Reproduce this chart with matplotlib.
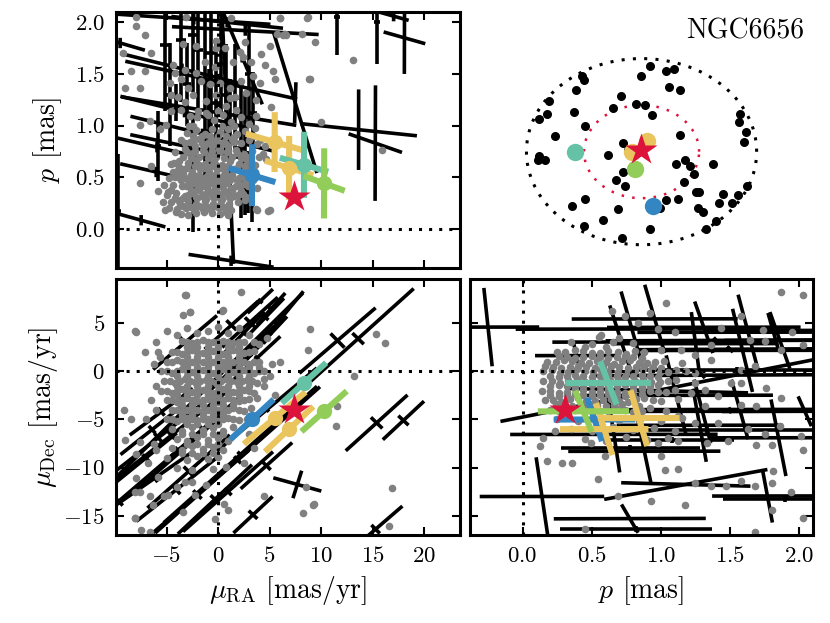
import numpy as np
import matplotlib
matplotlib.use("Agg")
import matplotlib.pyplot as plt

plt.rcParams['font.family'] = 'serif'
plt.rcParams['font.serif'] = ['cmr10']
plt.rcParams['mathtext.fontset'] = 'cm'
plt.rcParams['axes.formatter.use_mathtext'] = True

# ---------------------------------------------------------------- data
cluster_name = "NGC6656"

# highlighted stars: mu_RA [mas/yr], mu_Dec [mas/yr], parallax [mas]
hl_names = ["blue", "yellow1", "yellow2", "teal", "green"]
hl_colors = ["#3486c3", "#eac55e", "#eac55e", "#66c2a5", "#93cd59"]
hl_mura = [3.3, 5.5, 6.9, 8.35, 10.3]
hl_mudec = [-5.0, -4.85, -6.0, -1.2, -4.15]
hl_par = [0.52, 0.84, 0.59, 0.62, 0.44]
# error ellipse axes per plane: (major half dx, major half dy, minor half)
hl_err_ra_par = [(2.27, -0.068, 0.30), (2.8, -0.081, 0.29), (2.35, -0.07, 0.31),
                 (2.35, -0.068, 0.32), (2.0, -0.072, 0.34)]
hl_err_ra_dec = [(2.1, 2.08, 0.3), (3.0, 2.7, 0.3), (2.35, 2.35, 0.3),
                 (2.15, 2.1, 0.3), (2.2, 2.1, 0.3)]
hl_err_par_dec = [(-0.054, 2.25, 0.295), (-0.06, 2.9, 0.295), (-0.06, 2.7, 0.32),
                  (-0.06, 2.25, 0.31), (-0.06, 2.15, 0.33)]

# the target star (red)
target_mura, target_mudec, target_par = 7.4, -4.0, 0.31
target_sky = (-0.003, 0.014)

# sky positions (units of the outer radius)
hl_sky = [(0.096, -0.588), (0.046, 0.111), (-0.081, -0.007), (-0.577, -0.004), (-0.058, -0.186)]
sky_x = [-0.516, -0.496, -0.568, 0.070, -0.003, 0.215, 0.278, 0.235, 0.336, -0.800,
         -0.820, -0.887, -0.583, -0.177, -0.249, -0.046, 0.026, 0.087, -0.490, -0.748,
         0.336, -0.162, -0.119, -0.290, -0.887, -0.901, -0.843, 0.296, 0.377, 0.417,
         0.455, 0.620, -0.162, -0.226, -0.148, 0.365, 0.852, 0.846, 0.904, 0.887,
         0.470, 0.499, 0.707, 0.838, 0.916, -0.490, -0.606, -0.203, 0.215, 0.316,
         0.157, 0.490, 0.533, 0.672, 0.788, -0.336, -0.504, 0.070, 0.643, 0.562, -0.168]
sky_y = [0.817, 0.774, 0.667, 0.917, 0.817, 0.864, 0.889, 0.695, 0.667, 0.548,
         0.409, 0.355, 0.427, 0.595, 0.470, 0.516, 0.502, 0.394, 0.272, 0.165,
         0.183, 0.093, 0.014, -0.039, -0.050, -0.093, -0.093, -0.129, -0.093, -0.158,
         -0.237, -0.136, -0.215, -0.305, -0.366, -0.330, 0.405, 0.315, 0.215, 0.108,
         -0.437, -0.437, -0.452, -0.462, -0.373, -0.505, -0.588, -0.613, -0.516, -0.505,
         -0.606, -0.606, -0.649, -0.552, -0.552, -0.738, -0.803, -0.832, -0.749, -0.828, -0.932]
r_outer, r_inner = 1.0, 0.5

# black error crosses: (x, y, major dx, major dy, minor half)
err_ra_par = [
    (-5.18, 1.78, 0, 0.64, 0.5), (-3.56, 1.83, 0, 0.6, 0.5), (-2.43, 1.88, 0, 0.55, 0.5),
    (-1.94, 1.73, 0, 0.69, 0.5), (-1.30, 1.42, 0, 1.0, 0.6), (-0.65, 1.7, 0, 0.73, 0.5),
    (-0.17, 1.22, 0, 0.63, 0.5), (0.81, 1.3, 0, 0.49, 0.4), (1.61, 1.27, 0, 0.52, 0.4),
    (2.26, 0.78, 0, 0.68, 0.5), (2.58, 0.73, 0, 0.6, 0.5), (3.4, 1.12, 0, 0.4, 0.4),
    (-5.83, 0.8, 0, 0.34, 0.3), (-2.43, 0.52, 0, 0.55, 0.4), (-9.7, 0.17, 0, 0.55, 0.3),
    (-4.05, 1.22, 0, 0.18, 0.15), (11.55, 2.05, 0, 0.37, 0.3), (15.44, 2.0, 0, 0.4, 0.3),
    (-4.7, 1.3, 0, 0.5, 0.4), (-0.9, 0.95, 0, 0.6, 0.4), (1.2, 0.85, 0, 0.6, 0.4),
    (0.3, 1.6, 0, 0.5, 0.4), (3.0, 1.5, 0, 0.5, 0.4), (-3.0, 1.4, 0, 0.4, 0.4),
    (2.9, 0.45, 0, 0.3, 0.3), (3.3, 0.32, 0, 0.25, 0.3),
    (-2.36, 2.03, 7.45, -0.049, 0.05), (2.65, 1.92, 7.12, -0.038, 0.05),
    (-9.5, 1.8, 2.4, -0.07, 0.05), (-0.66, 1.44, 8.34, -0.183, 0.06),
    (-3.25, 1.13, 6.23, -0.154, 0.05), (-2.69, 0.79, 5.83, -0.122, 0.05),
    (-5.92, 0.79, 3.88, -0.09, 0.05), (-7.46, 0.083, 2.35, -0.065, 0.05),
    (1.27, -0.31, 4.13, -0.062, 0.05), (0.89, 2.0, 5.42, -0.057, 0.05),
    (-0.9, 1.14, 8.5, -0.138, 0.05), (-3.5, 1.55, 6.0, -0.15, 0.05),
    (-1.5, 0.92, 7.0, -0.17, 0.05), (-6.0, 0.55, 3.5, -0.08, 0.05),
    (13.65, 0.96, 5.66, -0.059, 0.39), (15.27, 0.83, 2.59, -0.09, 0.56),
    (18.1, 1.85, 2.02, -0.057, 0.35), (17.05, 2.06, 1.46, -0.041, 0.05),
    (0.95, 0.88, -0.56, 1.22, 0.3), (7.5, 1.22, 2.1, -0.68, 0.21), (2.36, 1.66, -1.94, 0.454, 0.05),
]
err_ra_dec = [
    (-3.2, 3.0, 3.1, 2.8, 0.8), (1.3, 4.8, 2.6, 2.5, 0.7), (3.1, 5.1, 2.7, 2.6, 0.7),
    (11.6, 3.2, 3.7, 3.4, 1.0), (13.6, 3.4, 5.4, 5.2, 0.8), (15.4, -5.35, 3.0, 2.9, 0.8),
    (18.0, -5.1, 2.0, 2.0, 0.7), (4.7, -9.8, 2.5, 2.4, 0.6), (7.7, -11.75, 2.33, -0.69, 1.49),
    (3.4, -14.9, 1.9, 1.9, 0.6), (15.3, -16.4, 2.6, 2.4, 0.6), (-0.3, -13.3, 3.6, 3.6, 0.6),
    (1.9, -9.2, 8.0, 7.6, 0.5), (-0.75, -1.35, 9.0, 9.5, 0.5), (-3.7, -8.4, 4.5, 4.2, 0.7),
    (-2.85, -10.4, 4.0, 3.8, 0.7), (-5.8, -6.9, 4.2, 3.5, 0.6), (-9.65, -13.5, 6.0, 5.5, 0.6),
    (-2.0, -12.8, 5.0, 4.6, 0.6), (4.1, 7.3, 1.23, 1.25, 0.3), (5.15, 6.5, 1.38, 1.64, 0.3),
    (5.7, 4.95, 2.59, 3.37, 0.3), (4.43, 3.11, 2.27, 2.59, 0.3), (3.14, 2.42, 2.27, 2.25, 0.3),
    (3.78, 1.39, 2.27, 2.25, 0.3), (4.75, -3.97, 4.85, 4.32, 0.3), (2.17, -8.64, 7.44, 7.09, 0.4),
    (-4.53, -6.64, 5.34, 4.49, 0.5), (-6.15, -11.1, 3.72, 2.77, 0.5), (-5.5, -4.2, 3.07, 2.42, 0.5),
    (0.97, -12.5, 4.37, 4.15, 0.5), (-4.05, -12.3, 3.88, 3.28, 0.6), (-6.4, -6.05, 3.07, 2.6, 0.5),
    (2.5, 4.0, 2.0, 2.2, 0.4), (4.6, 5.6, 1.8, 2.0, 0.4), (2.2, 1.0, 3.0, 3.0, 0.4),
    (-7.0, -9.0, 3.0, 2.6, 0.5), (-1.5, -6.0, 3.5, 3.2, 0.5),
]
err_par_dec = [
    (-0.25, 4.6, -0.03, 4.07, 0.37), (0.79, 4.4, -0.078, 3.9, 0.84), (0.955, 5.45, -0.072, 3.55, 0.6),
    (1.31, 4.58, -0.066, 2.68, 0.7), (1.63, 4.07, -0.072, 3.9, 0.8), (1.81, 4.25, -0.036, 1.82, 0.5),
    (2.04, -4.15, -0.048, 1.55, 0.6), (0.39, 1.64, -0.024, 1.46, 0.3), (0.66, -6.55, -0.042, 3.95, 0.75),
    (0.88, -8.3, -0.048, 3.3, 0.55), (1.30, -4.15, -0.06, 3.3, 0.8), (1.57, -3.96, -0.06, 3.1, 0.9),
    (1.85, -6.9, -0.054, 3.98, 0.5), (1.77, -12.95, -0.036, 2.76, 0.4), (0.775, -15.3, -0.06, 1.47, 0.55),
    (0.14, -13.0, -0.042, 4.07, 0.45), (0.97, -2.0, 1.13, 3.2, 0.7), (1.18, -11.75, 0.59, 1.55, 0.5),
    (0.82, -16.4, 0.55, 0.0, 0.3), (1.4, 3.22, 0.8, 0.05, 0.3), (1.5, 2.3, 0.7, 0.05, 0.3),
    (1.55, 0.18, 0.75, 0.0, 0.3), (1.3, -0.4, 0.8, 0.05, 0.3), (1.5, -4.05, 0.6, 0.02, 0.3),
    (1.33, -6.1, 0.77, 0.0, 0.3), (1.08, -7.16, 0.45, 0.0, 0.3), (0.78, -8.0, 0.5, 0.0, 0.3),
    (1.9, -13.3, 0.45, 0.0, 0.3), (0.715, 3.05, -0.085, 3.8, 0.5), (1.25, 2.88, -0.03, 3.28, 0.6),
    (1.59, 2.18, -0.072, 4.32, 0.7), (1.86, 3.22, -0.072, 2.94, 0.4), (1.11, -2.49, -0.072, 4.15, 0.7),
    (1.28, -5.6, -0.048, 3.8, 0.6),
]

# field stars (grey), read per panel
gray_ra_par = [
    (-7.93, 2.05), (-3.08, 2.05), (1.29, 2.04), (8.74, 2.05), (5.98, 2.04), (-7.93, 1.96), (-7.12, 1.88),
    (-9.22, 1.70), (-6.48, 1.70), (-3.4, 1.79), (-2.1, 1.77), (-0.17, 1.82), (-0.17, 1.75), (0.64, 1.75),
    (2.1, 1.71), (2.58, 1.81), (4.2, 1.69), (6.31, 1.88), (6.63, 1.88), (5.0, 1.77), (-8.42, 1.53),
    (-7.12, 1.53), (-4.37, 1.59), (-4.21, 1.51), (-3.24, 1.54), (-2.1, 1.51), (-1.3, 1.62), (-0.33, 1.57),
    (1.46, 1.62), (2.43, 1.66), (3.23, 1.62), (4.52, 1.59), (5.33, 1.53), (8.9, 1.45), (-9.06, 1.36),
    (-7.61, 1.36), (-4.7, 1.41), (-3.56, 1.45), (-2.91, 1.36), (-1.62, 1.43), (-0.81, 1.40), (0.16, 1.41),
    (1.13, 1.36), (2.26, 1.43), (3.4, 1.48), (4.04, 1.41), (5.5, 1.45), (-4.53, 1.30), (-3.88, 1.28),
    (-3.24, 1.23), (-2.43, 1.30), (-1.13, 1.24), (-0.17, 1.30), (1.13, 1.27), (1.61, 1.28), (2.75, 1.32),
    (3.72, 1.25), (-6.64, 1.04), (-5.67, 0.97), (-5.02, 1.01), (-4.53, 1.14), (-3.56, 1.15), (-2.75, 1.09),
    (-1.94, 1.14), (-0.97, 1.10), (0.0, 1.14), (0.81, 1.19), (1.78, 1.15), (-7.61, 1.01), (-6.48, 0.61),
    (-7.61, 0.44), (-5.83, 0.37), (-4.85, 0.36), (-5.34, 0.26), (-5.18, 0.18), (-4.04, 0.16), (-2.91, 0.13),
    (-2.1, 0.15), (-1.46, 0.19), (0.81, 0.16), (1.29, 0.18), (3.72, 0.19), (5.0, 0.18), (4.69, 0.68),
    (6.05, 2.04), (8.63, 2.04), (5.7, 1.89), (6.5, 1.89), (8.14, 1.89), (9.43, 1.81), (13.15, 1.64),
    (8.8, 1.45), (5.15, 1.18), (10.0, 1.03), (15.9, 0.76), (4.9, 0.17), (3.8, 0.18), (2.66, 0.28),
    (4.37, 0.72), (4.54, 0.80), (4.05, 0.86), (3.56, 0.98), (3.72, 1.09),
    (-2.0, 1.08), (-1.2, 1.12), (-0.4, 1.05), (0.5, 1.1), (1.3, 1.03), (2.2, 1.08), (-2.8, 1.0), (3.0, 1.02),
    (-3.0, 0.93), (-2.1, 0.96), (-1.3, 0.92), (-0.6, 0.97), (0.2, 0.94), (1.0, 0.97), (1.8, 0.92), (2.6, 0.95),
    (3.4, 0.9), (-3.6, 0.86), (-2.7, 0.84), (-1.8, 0.87), (-1.0, 0.83), (-0.2, 0.86), (0.6, 0.84), (1.4, 0.87),
    (2.2, 0.83), (3.0, 0.86), (3.8, 0.82), (-4.2, 0.74), (-3.2, 0.77), (-2.4, 0.73), (-1.5, 0.76), (-0.7, 0.72),
    (0.1, 0.77), (0.9, 0.74), (1.7, 0.76), (2.5, 0.72), (3.3, 0.75), (4.0, 0.7), (-4.6, 0.63), (-3.8, 0.66),
    (-2.9, 0.64), (-2.1, 0.67), (-1.3, 0.63), (-0.4, 0.66), (0.4, 0.62), (1.2, 0.66), (2.0, 0.63), (2.8, 0.67),
    (3.6, 0.62), (-4.0, 0.56), (-3.3, 0.58), (-2.5, 0.55), (-1.7, 0.58), (-0.9, 0.55), (-0.1, 0.58), (0.7, 0.55),
    (1.5, 0.58), (2.3, 0.55), (3.1, 0.57), (-4.8, 0.49), (-3.9, 0.5), (-3.0, 0.48), (-2.2, 0.51), (-1.4, 0.48),
    (-0.6, 0.51), (0.2, 0.48), (1.0, 0.51), (1.8, 0.47), (2.6, 0.5), (3.4, 0.47), (-4.4, 0.42), (-3.5, 0.41),
    (-2.7, 0.43), (-1.9, 0.4), (-1.1, 0.43), (-0.3, 0.4), (0.5, 0.43), (1.3, 0.4), (2.1, 0.42), (2.9, 0.41),
    (-5.0, 0.33), (-4.1, 0.35), (-3.2, 0.32), (-2.4, 0.35), (-1.6, 0.32), (-0.8, 0.35), (0.0, 0.32), (0.8, 0.35),
    (1.6, 0.32), (2.4, 0.34), (-4.6, 0.26), (-3.7, 0.24), (-2.9, 0.27), (-2.1, 0.24), (-1.3, 0.27), (-0.5, 0.24),
    (0.3, 0.27), (1.1, 0.24), (1.9, 0.26), (-4.0, 0.19), (-3.1, 0.2), (-2.3, 0.18), (-1.5, 0.21), (-0.7, 0.18),
    (0.1, 0.2), (0.9, 0.18), (-1.8, 0.62), (-1.0, 0.6), (-0.2, 0.62), (0.6, 0.6), (-2.6, 0.45), (-1.8, 0.46),
    (-1.0, 0.45), (-0.2, 0.46), (0.6, 0.45), (-2.0, 0.3), (-1.2, 0.29), (-0.4, 0.3), (0.4, 0.29), (1.2, 0.3),
    (-2.2, 0.8), (-1.4, 0.8), (-0.6, 0.8), (0.2, 0.8), (1.0, 0.8),
    (-3.4, 0.3), (-2.6, 0.38), (-1.8, 0.38), (-1.0, 0.38), (-0.2, 0.37), (0.6, 0.38), (1.4, 0.37), (2.2, 0.37),
    (-3.4, 0.53), (-2.6, 0.52), (-1.8, 0.52), (-1.0, 0.52), (-0.2, 0.53), (0.6, 0.52), (1.4, 0.52), (2.2, 0.5),
    (-3.4, 0.7), (-2.6, 0.69), (-1.8, 0.7), (-1.0, 0.69), (-0.2, 0.7), (0.6, 0.69), (1.4, 0.7), (2.2, 0.69),
    (3.0, 0.7), (-3.4, 0.22), (-2.6, 0.21), (-1.8, 0.22), (-1.0, 0.21), (-0.2, 0.22), (0.6, 0.21),
    (-4.2, 0.3), (-4.4, 0.55), (-5.2, 0.42), (-4.8, 0.2), (-2.4, 0.9), (-1.6, 0.9), (-0.8, 0.9), (0.0, 0.9),
    (0.8, 0.9), (1.6, 0.89), (-2.4, 1.0), (0.4, 1.0), (1.6, 1.0),
    (-2.2, 0.17), (-1.4, 0.16), (-0.6, 0.15), (0.2, 0.14), (1.0, 0.13), (-3.6, 0.14),
    (-2.9, 0.33), (-2.1, 0.31), (-1.3, 0.34), (-0.5, 0.31), (0.3, 0.34), (1.1, 0.31), (1.9, 0.33), (2.7, 0.31),
    (-3.1, 0.41), (-2.3, 0.44), (-1.5, 0.41), (-0.7, 0.44), (0.1, 0.41), (0.9, 0.44), (1.7, 0.41), (2.5, 0.43),
    (-3.6, 0.47), (-2.8, 0.49), (-2.0, 0.47), (-1.2, 0.5), (-0.4, 0.47), (0.4, 0.5), (1.2, 0.47), (2.0, 0.49),
    (2.8, 0.46), (-3.8, 0.6), (-3.0, 0.59), (-2.2, 0.61), (-1.4, 0.59), (-0.6, 0.61), (0.2, 0.59), (1.0, 0.61),
    (1.8, 0.59), (2.6, 0.61), (-3.0, 0.74), (-2.2, 0.75), (-1.4, 0.74), (-0.6, 0.75), (0.2, 0.74), (1.0, 0.75),
    (1.8, 0.73), (-3.2, 0.83), (-2.4, 0.84), (-1.6, 0.83), (-0.8, 0.84), (0.0, 0.83), (0.8, 0.82), (1.6, 0.84),
    (-4.2, 0.5), (-4.6, 0.38), (-4.3, 0.64), (-3.9, 0.28), (3.6, 0.55), (3.8, 0.4), (3.2, 0.65),
]
gray_ra_dec = [
    (-3.08, 7.96), (2.26, 8.24), (-3.4, 5.81), (-2.76, 6.16), (0.49, 6.33), (-7.93, 4.08), (-7.12, 2.01),
    (-5.67, 1.49), (8.89, 4.43), (8.74, 2.18), (-8.42, -4.9), (-7.61, -7.33), (-5.99, -8.19), (-7.93, -11.1),
    (-7.61, -12.5), (-6.64, -13.0), (-4.85, -12.86), (-3.24, -11.5), (-2.27, -12.86), (-8.1, -15.2),
    (-3.4, -14.6), (0.97, -14.4), (-7.45, -16.5), (8.25, -14.76), (9.22, -13.9), (8.57, -12.0),
    (-3.17, 7.95), (-2.75, 6.13), (0.39, 6.23), (-8.03, 4.15), (15.37, 3.91), (16.24, 2.94), (13.17, -0.45),
    (11.6, -3.56), (11.46, -5.7), (-9.17, -3.98), (-9.0, -7.1), (-7.93, -8.6), (-8.03, -12.5), (-6.3, -13.9),
    (-8.03, -15.2), (-5.28, -12.9), (4.43, -12.9), (9.35, -13.75), (16.9, -12.1), (16.56, -16.1),
    (-0.26, -15.3), (0.54, -13.8), (-6.57, -16.7),
    (-3.5, 3.2), (-2.5, 2.9), (-1.5, 3.3), (-0.5, 3.0), (0.5, 3.2), (1.5, 2.9), (2.5, 3.1),
    (-4.5, 2.0), (-3.5, 1.8), (-2.5, 2.2), (-1.5, 1.9), (-0.5, 2.1), (0.5, 1.8), (1.5, 2.2), (2.5, 1.9), (3.5, 2.1),
    (-5.0, 1.0), (-4.0, 1.2), (-3.0, 0.9), (-2.0, 1.1), (-1.0, 0.8), (0.0, 1.2), (1.0, 0.9), (2.0, 1.1), (3.0, 0.8),
    (4.0, 1.0), (-5.5, 0.0), (-4.5, -0.2), (-3.5, 0.2), (-2.5, -0.1), (-1.5, 0.1), (-0.5, -0.2), (0.5, 0.2),
    (1.5, -0.1), (2.5, 0.1), (3.5, -0.2), (4.5, 0.0), (-5.2, -1.0), (-4.2, -1.2), (-3.2, -0.8), (-2.2, -1.1),
    (-1.2, -0.9), (-0.2, -1.2), (0.8, -0.8), (1.8, -1.1), (2.8, -0.9), (3.8, -1.2), (-5.5, -2.0), (-4.5, -2.2),
    (-3.5, -1.8), (-2.5, -2.1), (-1.5, -1.9), (-0.5, -2.2), (0.5, -1.8), (1.5, -2.1), (2.5, -1.9), (3.5, -2.2),
    (-5.0, -3.0), (-4.0, -3.2), (-3.0, -2.8), (-2.0, -3.1), (-1.0, -2.9), (0.0, -3.2), (1.0, -2.8), (2.0, -3.1),
    (3.0, -2.9), (-4.5, -4.0), (-3.5, -4.2), (-2.5, -3.8), (-1.5, -4.1), (-0.5, -3.9), (0.5, -4.2), (1.5, -3.8),
    (2.5, -4.1), (-5.0, -5.0), (-4.0, -5.2), (-3.0, -4.8), (-2.0, -5.1), (-1.0, -4.9), (0.0, -5.2), (1.0, -4.8),
    (2.0, -5.1), (-4.5, -6.0), (-3.5, -6.2), (-2.5, -5.8), (-1.5, -6.1), (-0.5, -5.9), (0.5, -6.2), (1.5, -5.8),
    (-4.0, -7.0), (-3.0, -7.2), (-2.0, -6.8), (-1.0, -7.1), (0.0, -6.9), (1.0, -7.2), (-4.5, -8.0), (-3.5, -8.2),
    (-2.5, -7.8), (-1.5, -8.1), (-0.5, -7.9), (0.5, -8.2), (-5.0, -9.0), (-3.0, -9.2), (-2.0, -8.8), (-1.0, -9.1),
    (0.0, -8.9), (-4.0, -10.0), (-2.5, -10.2), (-0.5, -10.1), (0.8, -9.9), (3.0, 3.8), (4.0, 2.8), (1.0, 4.0),
    (2.0, 4.5), (-1.0, 4.2), (-2.0, 4.0), (4.5, -1.5), (5.2, 0.8), (5.0, -0.5), (-6.5, -3.0), (-7.0, -5.0),
    (-6.2, -7.5), (-6.8, -9.5), (-5.8, -11.0), (-4.0, -12.0), (-2.5, -11.5), (-1.2, -11.8), (3.0, -6.5),
    (3.5, -8.0), (2.5, -9.5), (-6.0, 3.0), (-5.0, 4.2), (4.8, 3.5), (6.0, 1.0), (5.5, -2.5),
    (-3.0, 1.5), (-2.0, 1.5), (-1.0, 1.5), (0.0, 1.5), (1.0, 1.5), (2.0, 1.5), (-3.0, 0.5), (-2.0, 0.5),
    (-1.0, 0.5), (0.0, 0.5), (1.0, 0.5), (2.0, 0.5), (3.0, 0.5), (-4.0, -0.5), (-3.0, -0.5), (-2.0, -0.5),
    (-1.0, -0.5), (0.0, -0.5), (1.0, -0.5), (2.0, -0.5), (3.0, -0.5), (-4.0, -1.5), (-3.0, -1.5), (-2.0, -1.5),
    (-1.0, -1.5), (0.0, -1.5), (1.0, -1.5), (2.0, -1.5), (3.0, -1.5), (-4.0, -2.5), (-3.0, -2.5), (-2.0, -2.5),
    (-1.0, -2.5), (0.0, -2.5), (1.0, -2.5), (2.0, -2.5), (-3.5, -3.5), (-2.5, -3.5), (-1.5, -3.5), (-0.5, -3.5),
    (0.5, -3.5), (1.5, -3.5), (-3.5, -4.5), (-2.5, -4.5), (-1.5, -4.5), (-0.5, -4.5), (0.5, -4.5), (-3.0, -5.5),
    (-2.0, -5.5), (-1.0, -5.5), (0.0, -5.5),
    (-3.0, 2.5), (-2.0, 2.5), (-1.0, 2.5), (0.0, 2.5), (1.0, 2.5), (2.0, 2.5), (-3.5, -6.5), (-2.5, -6.5),
    (-1.5, -6.5), (-0.5, -6.5), (0.5, -6.5), (-3.0, -7.5), (-2.0, -7.5), (-1.0, -7.5), (0.0, -7.5),
    (-3.5, -8.5), (-2.5, -8.5), (-1.5, -8.5), (-0.5, -8.5), (-4.0, 3.8), (-3.0, 4.5), (0.0, 4.6), (3.5, 3.0),
    (4.0, 0.5), (4.5, -0.8), (3.8, -2.8), (3.2, -3.8), (2.8, -5.0), (-6.0, -1.5), (-6.2, 0.8), (-5.8, 2.0),
    (-6.0, -4.0),
    (-3.0, 3.0), (-2.0, 3.0), (-1.0, 3.0), (0.0, 3.0), (1.0, 3.0), (2.0, 3.0),
    (-4.0, 2.0), (-3.0, 2.0), (-2.0, 2.0), (-1.0, 2.0), (0.0, 2.0), (1.0, 2.0), (2.0, 2.0), (3.0, 2.0),
    (-4.5, 1.0), (-3.5, 1.0), (-2.5, 1.0), (-1.5, 1.0), (-0.5, 1.0), (0.5, 1.0), (1.5, 1.0), (2.5, 1.0), (3.5, 1.0),
    (-5.0, 0.0), (-4.0, 0.0), (-3.0, 0.0), (-2.0, 0.0), (-1.0, 0.0), (0.0, 0.0), (1.0, 0.0), (2.0, 0.0), (3.0, 0.0),
    (4.0, 0.0), (-4.7, -1.0), (-3.7, -1.0), (-2.7, -1.0), (-1.7, -1.0), (-0.7, -1.0), (0.3, -1.0), (1.3, -1.0),
    (2.3, -1.0), (3.3, -1.0), (-5.0, -2.0), (-4.0, -2.0), (-3.0, -2.0), (-2.0, -2.0), (-1.0, -2.0), (0.0, -2.0),
    (1.0, -2.0), (2.0, -2.0), (3.0, -2.0), (-4.5, -3.0), (-3.5, -3.0), (-2.5, -3.0), (-1.5, -3.0), (-0.5, -3.0),
    (0.5, -3.0), (1.5, -3.0), (2.5, -3.0), (-4.0, -4.0), (-3.0, -4.0), (-2.0, -4.0), (-1.0, -4.0), (0.0, -4.0),
    (1.0, -4.0), (2.0, -4.0), (-4.5, -5.0), (-3.5, -5.0), (-2.5, -5.0), (-1.5, -5.0), (-0.5, -5.0), (0.5, -5.0),
    (1.5, -5.0),
]
gray_par_dec = [
    (1.87, 8.2), (2.03, 7.95), (1.04, 7.09), (0.643, 6.23), (0.739, 5.78), (0.919, 6.06), (1.576, 5.71),
    (1.737, 4.33), (1.947, 4.05), (0.565, 3.8), (0.835, 5.02), (0.979, 4.4), (1.1, 4.05), (1.437, 4.49),
    (1.641, 3.29), (1.75, 3.11), (2.03, 2.76), (1.148, 2.25), (1.365, 2.76), (1.87, 2.25), (1.244, 1.73),
    (1.365, 1.21), (1.58, 0.18), (1.68, 0.52), (1.51, -1.2), (1.316, -1.9), (1.412, -2.59), (1.58, -1.2),
    (1.762, -1.72), (1.87, -2.76), (1.316, -3.62), (1.58, -3.45), (1.69, -3.62), (1.124, -4.66),
    (1.244, -5.35), (1.412, -5.35), (1.63, -6.04), (1.75, -6.56), (1.86, -5.7), (2.01, -6.73), (0.979, -7.42),
    (1.124, -7.25), (1.33, -7.42), (1.485, -7.25), (1.69, -7.6), (1.8, -7.6), (2.03, -8.12), (1.027, -10.2),
    (1.124, -10.13), (1.244, -11.6), (1.365, -11.95), (1.473, -11.95), (1.58, -11.4), (1.68, -11.95),
    (1.81, -10.4), (1.8, -11.6), (1.942, -12.55), (0.546, -11.15), (0.69, -12.96), (0.93, -13.5),
    (1.172, -13.85), (1.8, -14.4), (2.03, -15.2), (1.68, -16.7), (0.45, -16.4), (0.354, -9.5), (0.282, -9.5),
    (0.173, -9.33), (0.125, -7.77), (0.149, -6.9), (0.233, -6.21), (0.498, -7.42), (0.594, -8.8), (1.0, -8.8),
    (0.35, 3.0), (0.5, 2.8), (0.65, 3.1), (0.8, 2.9), (0.25, 2.0), (0.38, 2.2), (0.5, 1.9), (0.62, 2.1),
    (0.75, 1.8), (0.88, 2.0), (1.0, 2.2), (0.18, 1.0), (0.3, 1.2), (0.42, 0.9), (0.54, 1.1), (0.66, 0.8),
    (0.78, 1.2), (0.9, 0.9), (1.02, 1.1), (1.15, 0.9), (0.15, 0.0), (0.27, -0.2), (0.39, 0.2), (0.51, -0.1),
    (0.63, 0.1), (0.75, -0.2), (0.87, 0.2), (0.99, -0.1), (1.11, 0.1), (1.25, -0.2), (0.15, -1.0), (0.27, -1.2),
    (0.39, -0.8), (0.51, -1.1), (0.63, -0.9), (0.75, -1.2), (0.87, -0.8), (0.99, -1.1), (1.11, -0.9),
    (1.25, -1.2), (0.14, -2.0), (0.26, -2.2), (0.38, -1.8), (0.5, -2.1), (0.62, -1.9), (0.74, -2.2),
    (0.86, -1.8), (0.98, -2.1), (1.1, -1.9), (1.22, -2.2), (0.16, -3.0), (0.28, -3.2), (0.4, -2.8),
    (0.52, -3.1), (0.64, -2.9), (0.76, -3.2), (0.88, -2.8), (1.0, -3.1), (1.12, -2.9), (0.2, -4.0),
    (0.32, -4.2), (0.44, -3.8), (0.56, -4.1), (0.68, -3.9), (0.8, -4.2), (0.92, -3.8), (1.04, -4.1),
    (0.25, -5.0), (0.4, -5.2), (0.55, -4.8), (0.7, -5.1), (0.85, -4.9), (1.0, -5.2), (1.15, -4.8),
    (0.35, -6.0), (0.5, -6.2), (0.65, -5.8), (0.8, -6.1), (0.95, -5.9), (1.1, -6.2), (0.45, -7.0),
    (0.6, -7.2), (0.75, -6.8), (0.9, -7.1), (1.05, -6.9), (0.32, 1.5), (0.44, 1.5), (0.56, 1.5), (0.68, 1.5),
    (0.8, 1.5), (0.22, 0.5), (0.34, 0.5), (0.46, 0.5), (0.58, 0.5), (0.7, 0.5), (0.82, 0.5), (0.94, 0.5),
    (0.2, -0.5), (0.32, -0.5), (0.44, -0.5), (0.56, -0.5), (0.68, -0.5), (0.8, -0.5), (0.92, -0.5),
    (0.2, -1.5), (0.32, -1.5), (0.44, -1.5), (0.56, -1.5), (0.68, -1.5), (0.8, -1.5), (0.92, -1.5),
    (0.2, -2.5), (0.32, -2.5), (0.44, -2.5), (0.56, -2.5), (0.68, -2.5), (0.8, -2.5), (0.3, -3.5),
    (0.42, -3.5), (0.54, -3.5), (0.66, -3.5), (0.45, 2.5), (0.6, 2.5), (0.7, 3.5), (0.55, 3.6),
    (0.21, 0.1), (0.33, -0.1), (0.45, 0.0), (0.57, 0.1), (0.69, -0.1), (0.81, 0.0), (0.93, 0.1), (1.05, -0.1),
    (1.18, 0.0), (0.21, -1.0), (0.33, -0.9), (0.45, -1.1), (0.57, -1.0), (0.69, -0.9), (0.81, -1.0),
    (0.93, -1.1), (1.05, -1.0), (0.2, -2.0), (0.32, -2.1), (0.44, -1.9), (0.56, -2.0), (0.68, -2.1),
    (0.8, -1.9), (0.92, -2.0), (1.04, -2.1), (0.22, -3.0), (0.34, -2.9), (0.46, -3.1), (0.58, -3.0),
    (0.7, -3.1), (0.82, -2.9), (0.94, -3.0), (0.24, 1.0), (0.36, 1.1), (0.48, 0.9), (0.6, 1.0), (0.72, 1.1),
    (0.84, 0.9), (0.96, 1.0), (0.31, 2.0), (0.44, 2.1), (0.56, 1.9), (0.69, 2.0), (0.81, 2.1), (0.26, -4.1),
    (0.38, -4.0), (0.5, -3.9), (0.62, -4.1), (0.74, -4.0), (0.86, -4.1),
    (0.16, 0.6), (0.28, 0.4), (0.4, 0.6), (0.52, 0.4), (0.64, 0.6), (0.76, 0.4), (0.88, 0.6), (1.0, 0.4),
    (0.26, -0.6), (0.38, -0.4), (0.5, -0.6), (0.62, -0.4), (0.74, -0.6), (0.86, -0.4), (0.98, -0.6),
    (0.26, -1.4), (0.38, -1.6), (0.5, -1.4), (0.62, -1.6), (0.74, -1.4), (0.86, -1.6), (0.98, -1.4),
    (0.26, -2.6), (0.38, -2.4), (0.5, -2.6), (0.62, -2.4), (0.74, -2.6), (0.86, -2.4),
    (0.26, 1.6), (0.38, 1.4), (0.5, 1.6), (0.62, 1.4), (0.74, 1.6), (0.86, 1.4),
    (0.24, -3.4), (0.36, -3.6), (0.48, -3.4), (0.6, -3.6), (0.72, -3.4), (0.84, -3.6),
]

mu_ticks = [-5, 0, 5, 10, 15, 20]
par_ticks = [0.0, 0.5, 1.0, 1.5, 2.0]
dec_ticks = [-15, -10, -5, 0, 5]
mu_lim = (-9.9, 23.5)
par_lim = (-0.38, 2.1)
dec_lim = (-17.0, 9.6)

target_color = "#dc143c"
grey = "#808080"


# ---------------------------------------------------------------- helpers
def draw_cross(ax, x, y, dx, dy, minor, color, lw, z):
    n = np.hypot(dx, dy)
    px, py = -dy / n * minor, dx / n * minor
    ax.plot([x - dx, x + dx], [y - dy, y + dy], color=color, lw=lw,
            solid_capstyle='butt', zorder=z)
    ax.plot([x - px, x + px], [y - py, y + py], color=color, lw=lw,
            solid_capstyle='butt', zorder=z)


def style_axes(ax):
    for s in ax.spines.values():
        s.set_linewidth(2.2)
    ax.tick_params(direction='in', top=True, right=True, length=6, width=1.5,
                   labelsize=16.5, pad=8)


def dotted(ax, which, v):
    if which == 'h':
        ax.axhline(v, color='k', lw=2.2, dashes=(1, 2.3), zorder=3)
    else:
        ax.axvline(v, color='k', lw=2.2, dashes=(1, 2.3), zorder=3)


fig = plt.figure(figsize=(8.3, 6.23), dpi=100)
ax_tl = fig.add_axes([0.1398, 0.5698, 0.4145, 0.4109])
ax_tr = fig.add_axes([0.5663, 0.5698, 0.4133, 0.4109])
ax_bl = fig.add_axes([0.1398, 0.1413, 0.4145, 0.4109])
ax_br = fig.add_axes([0.5663, 0.1413, 0.4133, 0.4109])

black_lw = 2.6
color_lw = 4.4
gray_s = 30

# ---------------- top left: mu_RA vs parallax
for (x, y, dx, dy, m) in err_ra_par:
    draw_cross(ax_tl, x, y, dx, dy, m, 'k', black_lw, 1)
g = np.array(gray_ra_par)
ax_tl.scatter(g[:, 0], g[:, 1], s=gray_s, color=grey, lw=0, zorder=2)
dotted(ax_tl, 'h', 0)
dotted(ax_tl, 'v', 0)
for i in range(len(hl_names)):
    dx, dy, m = hl_err_ra_par[i]
    draw_cross(ax_tl, hl_mura[i], hl_par[i], dx, dy, m, hl_colors[i], color_lw, 4)
    ax_tl.plot(hl_mura[i], hl_par[i], 'o', ms=11, color=hl_colors[i], mec='none', zorder=5)
ax_tl.plot(target_mura, target_par, '*', ms=24, color=target_color, mec='none', zorder=6)
ax_tl.set_xlim(mu_lim)
ax_tl.set_ylim(par_lim)
ax_tl.set_xticks(mu_ticks)
ax_tl.set_yticks(par_ticks)
style_axes(ax_tl)
ax_tl.tick_params(labelbottom=False)
ax_tl.set_ylabel(r'$p$ [mas]', fontsize=20, labelpad=8)

# ---------------- bottom left: mu_RA vs mu_Dec
for (x, y, dx, dy, m) in err_ra_dec:
    draw_cross(ax_bl, x, y, dx, dy, m, 'k', black_lw, 1)
g = np.array(gray_ra_dec)
ax_bl.scatter(g[:, 0], g[:, 1], s=gray_s, color=grey, lw=0, zorder=2)
dotted(ax_bl, 'h', 0)
dotted(ax_bl, 'v', 0)
for i in range(len(hl_names)):
    dx, dy, m = hl_err_ra_dec[i]
    draw_cross(ax_bl, hl_mura[i], hl_mudec[i], dx, dy, m, hl_colors[i], color_lw, 4)
    ax_bl.plot(hl_mura[i], hl_mudec[i], 'o', ms=11, color=hl_colors[i], mec='none', zorder=5)
ax_bl.plot(target_mura, target_mudec, '*', ms=24, color=target_color, mec='none', zorder=6)
ax_bl.set_xlim(mu_lim)
ax_bl.set_ylim(dec_lim)
ax_bl.set_xticks(mu_ticks)
ax_bl.set_yticks(dec_ticks)
style_axes(ax_bl)
ax_bl.set_xlabel(r'$\mu_{\rm RA}$ [mas/yr]', fontsize=20, labelpad=6)
ax_bl.set_ylabel(r'$\mu_{\rm Dec}$ [mas/yr]', fontsize=20, labelpad=2)

# ---------------- bottom right: parallax vs mu_Dec
for (x, y, dx, dy, m) in err_par_dec:
    draw_cross(ax_br, x, y, dx, dy, m, 'k', black_lw, 1)
g = np.array(gray_par_dec)
ax_br.scatter(g[:, 0], g[:, 1], s=gray_s, color=grey, lw=0, zorder=2)
dotted(ax_br, 'h', 0)
dotted(ax_br, 'v', 0)
for i in range(len(hl_names)):
    dx, dy, m = hl_err_par_dec[i]
    draw_cross(ax_br, hl_par[i], hl_mudec[i], dx, dy, m, hl_colors[i], color_lw, 4)
ax_br.plot(target_par, target_mudec, '*', ms=24, color=target_color, mec='none', zorder=6)
ax_br.set_xlim(par_lim)
ax_br.set_ylim(dec_lim)
ax_br.set_xticks(par_ticks)
ax_br.set_yticks(dec_ticks)
style_axes(ax_br)
ax_br.tick_params(labelleft=False)
ax_br.set_xlabel(r'$p$ [mas]', fontsize=20, labelpad=6)

# ---------------- top right: sky positions
th = np.linspace(0, 2 * np.pi, 500)
ax_tr.plot(r_outer * np.cos(th), r_outer * np.sin(th), color='k', lw=2.2, dashes=(1, 2.7))
ax_tr.plot(r_inner * np.cos(th), r_inner * np.sin(th), color=target_color, lw=1.8, dashes=(1, 3.3))
ax_tr.plot(sky_x, sky_y, 'o', ms=6.5, color='k', mec='none', zorder=3)
for i in range(len(hl_names)):
    ax_tr.plot(hl_sky[i][0], hl_sky[i][1], 'o', ms=12.5, color=hl_colors[i], mec='none', zorder=4)
ax_tr.plot(target_sky[0], target_sky[1], '*', ms=24, color=target_color, mec='none', zorder=5)
ax_tr.set_xlim(-1.49, 1.49)
ax_tr.set_ylim(-1.25, 1.5)
ax_tr.set_axis_off()
ax_tr.text(0.975, 0.925, cluster_name, transform=ax_tr.transAxes, ha='right', va='center',
           fontsize=20)

fig.savefig("out.png", dpi=100)
